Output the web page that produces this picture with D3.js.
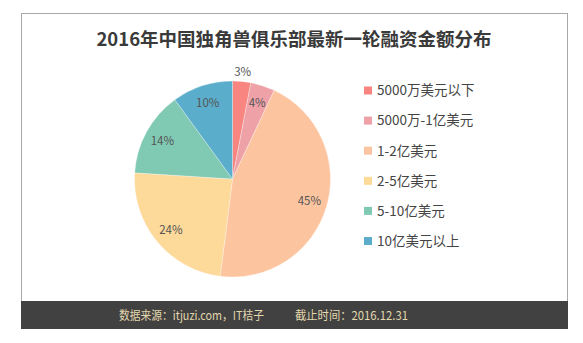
<!DOCTYPE html>
<html><head><meta charset="utf-8">
<script src="https://cdn.jsdelivr.net/npm/d3@7"></script>
<style>
html,body{margin:0;padding:0;background:#fff;}
svg{display:block;font-family:"Noto Sans CJK SC","Microsoft YaHei",sans-serif;}
</style></head>
<body>
<svg id="c" width="583" height="343"></svg>
<script>
const categories = ["5000万美元以下","5000万-1亿美元","1-2亿美元","2-5亿美元","5-10亿美元","10亿美元以上"];
const values = [3,4,45,24,14,10];
const colors = ["#f8857f","#eea2a8","#fdc4a0","#fdd99a","#80c9b2","#5aadcb"];
const title = "2016年中国独角兽俱乐部最新一轮融资金额分布";
const sourceText = "数据来源：itjuzi.com，IT桔子";
const dateText = "截止时间：2016.12.31";

const svg = d3.select("#c");
// frame
svg.append("rect").attr("x",21.5).attr("y",13.5).attr("width",546).attr("height",300)
  .attr("fill","#fff").attr("stroke","#a8a8a8").attr("stroke-width",1);
// footer
svg.append("rect").attr("x",21).attr("y",301).attr("width",547).attr("height",28).attr("fill","#414141");
svg.append("text").attr("x",119).attr("y",319.5).attr("font-size",12).attr("fill","#e3d8ae")
  .attr("textLength",145).attr("lengthAdjust","spacingAndGlyphs").text(sourceText);
svg.append("text").attr("x",295).attr("y",319.5).attr("font-size",12).attr("fill","#e3d8ae")
  .attr("textLength",113).attr("lengthAdjust","spacingAndGlyphs").text(dateText);

// title
svg.append("text").attr("x",294).attr("y",46).attr("text-anchor","middle")
  .attr("font-size",18.5).attr("font-weight","bold").attr("fill","#3a3a3a").text(title);

const cx = 232.5, cy = 179, r = 98;
const pie = d3.pie().sort(null).value(d=>d)(values);
const arc = d3.arc().innerRadius(0).outerRadius(r);
const g = svg.append("g").attr("transform",`translate(${cx},${cy})`);
g.selectAll("path").data(pie).join("path").attr("d",arc)
  .attr("fill",(d,i)=>colors[i]).attr("stroke","#fff").attr("stroke-width",0.3);
const inLabel = d3.arc().innerRadius(80).outerRadius(80);
const outLabel = d3.arc().innerRadius(108).outerRadius(108);
g.selectAll("text").data(pie).join("text")
  .attr("transform",d=>`translate(${(d.data<=3?outLabel:inLabel).centroid(d)})`)
  .attr("text-anchor","middle").attr("dy","0.36em")
  .attr("font-size",11.5).attr("fill","#555")
  .text(d=>d.data+"%");

// legend
const lg = svg.append("g");
categories.forEach((c,i)=>{
  const y = 90.5 + i*30.1;
  lg.append("rect").attr("x",364).attr("y",y-4).attr("width",8).attr("height",8).attr("fill",colors[i]);
  lg.append("text").attr("x",377).attr("y",y).attr("dy","0.36em").attr("font-size",13.5).attr("fill","#444").text(c);
});
</script>
</body></html>
